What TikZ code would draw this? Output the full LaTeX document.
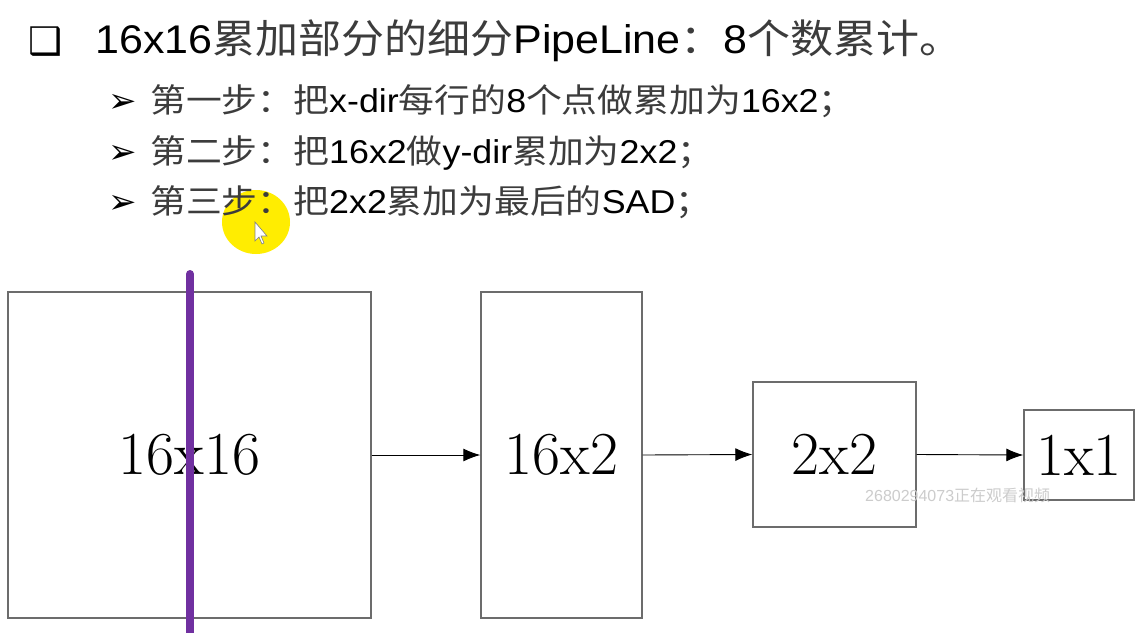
\documentclass[tikz,border=0pt]{standalone}
\usepackage{graphicx}
\usepackage{fontspec}
\newfontfamily\arial{Liberation Sans}
\newfontfamily\cjk{Noto Sans CJK SC}
\newfontfamily\symf{DejaVu Sans}
\usetikzlibrary{arrows.meta}
\definecolor{vpurple}{RGB}{112,48,160}
\definecolor{cjkgray}{RGB}{60,60,60}
\newcommand{\cj}[1]{{\cjk\color{cjkgray}#1}}
\newcommand{\wide}[2]{\scalebox{#1}[1]{#2}}
\tikzset{
  stagebox/.style={draw=gray!85!black, line width=1.4pt, fill=white, inner sep=0pt,
    font=\fontsize{61}{61}\selectfont},
  flow/.style={line width=0.9pt, -{Latex[length=17pt,width=13pt]}},
  item/.style={anchor=base west, inner sep=0pt, font=\arial\fontsize{33}{33}\selectfont},
  bul/.style={anchor=base west, inner sep=0pt, font=\symf\fontsize{34}{34}\selectfont}
}
\begin{document}
\begin{tikzpicture}[x=1pt,y=-1pt]
\useasboundingbox (0,0) rectangle (1146,632);
\fill[white] (0,0) rectangle (1146,632);
% cursor highlight
\fill[yellow!95!orange] (256,222) ellipse (34 and 32);
% title
\node[anchor=base west, inner sep=0pt, font=\symf\fontsize{38}{38}\selectfont] (tb) at (28,54) {❑};
\node[anchor=base west, inner sep=0pt, font=\arial\fontsize{40}{40}\selectfont] (title) at (95,53)
  {\wide{1.075}{16x16\cj{累加部分的细分}PipeLine\cj{：}8\cj{个数累计。}}};
% items
\node[bul] (b1) at (108,112) {➢};
\node[item] (i1) at (150,112) {\wide{1.085}{\cj{第一步：把}x-dir\cj{每行的}8\cj{个点做累加为}16x2\cj{；}}};
\node[bul] (b2) at (108,163) {➢};
\node[item] (i2) at (150,163) {\wide{1.085}{\cj{第二步：把}16x2\cj{做}y-dir\cj{累加为}2x2\cj{；}}};
\node[bul] (b3) at (108,213) {➢};
\node[item] (i3) at (150,213) {\wide{1.085}{\cj{第三步：把}2x2\cj{累加为最后的}SAD\cj{；}}};
% cursor
\draw[fill=white, draw=gray, line width=0.6pt] (255,222) -- (255,241) -- (259,237) -- (262,244) -- (264,243) -- (261,236) -- (267,236) -- cycle;
% boxes
\node[stagebox, minimum width=363pt, minimum height=326pt] (s1) at (189.5,455) {16x16};
\node[stagebox, minimum width=161pt, minimum height=326pt] (s2) at (561.5,455) {16x2};
\node[stagebox, minimum width=163pt, minimum height=145pt] (s3) at (834.5,454.5) {2x2};
\node[stagebox, minimum width=110pt, minimum height=90pt] (s4) at (1079,455) {1x1};
\draw[flow] (s1.east) -- (s2.west);
\draw[flow] (s2.east) -- (s3.west);
\draw[flow] (s3.east) -- (s4.west);
% purple line
\coordinate (pt) at (190,274);
\coordinate (pb) at (190,640);
\draw[vpurple, line width=8pt, line cap=round] (pt) -- (pb);
% watermark
\node[anchor=west, inner sep=0pt, text=gray!40, font=\arial\fontsize{16}{16}\selectfont] (wm) at (865,495)
  {2680294073{\cjk 正在观看视频}};
\end{tikzpicture}
\end{document}
